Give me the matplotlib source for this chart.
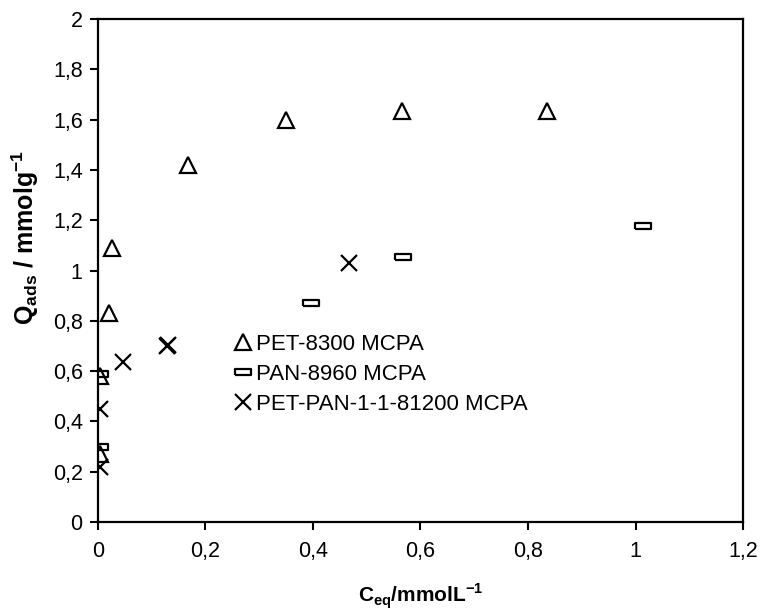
import numpy as np
import matplotlib
matplotlib.use("Agg")
import matplotlib.pyplot as plt
from matplotlib.ticker import FuncFormatter, MultipleLocator

plt.rcParams['font.family'] = ['Liberation Sans', 'DejaVu Sans']
plt.rcParams['mathtext.fontset'] = 'custom'
plt.rcParams['mathtext.rm'] = 'Liberation Sans:bold'

# PET-8300 MCPA
pet_x = [0.003, 0.003, 0.020, 0.026, 0.167, 0.350, 0.566, 0.835]
pet_y = [0.27, 0.58, 0.83, 1.09, 1.42, 1.60, 1.635, 1.635]

# PAN-8960 MCPA
pan_x = [0.003, 0.003, 0.396, 0.568, 1.014]
pan_y = [0.30, 0.59, 0.871, 1.054, 1.177]

# PET-PAN-1-1-81200 MCPA
mix_x = [0.003, 0.003, 0.047, 0.128, 0.131, 0.467]
mix_y = [0.22, 0.45, 0.635, 0.70, 0.705, 1.03]

labels = ["PET-8300 MCPA", "PAN-8960 MCPA", "PET-PAN-1-1-81200 MCPA"]

bar_marker = [(-1, -0.32), (1, -0.32), (1, 0.32), (-1, 0.32), (-1, -0.32)]

fig = plt.figure(figsize=(7.63, 6.14), dpi=100)
ax = fig.add_axes([0.1284, 0.1498, 0.8454, 0.8192])

ax.plot(pet_x, pet_y, ls='none', marker='^', ms=11, mfc='none', mec='black',
        mew=1.6, label=labels[0])
ax.plot(pan_x, pan_y, ls='none', marker=bar_marker, ms=12, mfc='none', mec='black',
        mew=1.6, label=labels[1])
ax.plot(mix_x, mix_y, ls='none', marker='x', ms=12, mec='black',
        mew=1.6, label=labels[2])

ax.set_xlim(0, 1.2)
ax.set_ylim(0, 2)
ax.xaxis.set_major_locator(MultipleLocator(0.2))
ax.yaxis.set_major_locator(MultipleLocator(0.2))
fmt = FuncFormatter(lambda v, p: ('%g' % round(v, 2)).replace('.', ','))
ax.xaxis.set_major_formatter(fmt)
ax.yaxis.set_major_formatter(fmt)
ax.tick_params(direction='out', length=6, width=1.5, labelsize=15.5, pad=5)
ax.tick_params(axis='x', pad=8)
for s in ax.spines.values():
    s.set_linewidth(1.6)

ax.set_xlabel(r'C$_\mathrm{eq}$/mmolL$^\mathrm{-1}$', fontsize=15, fontweight='bold')
ax.set_ylabel(r'Q$_\mathrm{ads}$ / mmolg$^\mathrm{-1}$', fontsize=18, fontweight='bold')
ax.xaxis.set_label_coords(0.5, -0.118)
ax.yaxis.set_label_coords(-0.088, 0.565)

ax.legend(loc='upper left', bbox_to_anchor=(0.307, 0.456), frameon=False,
          fontsize=16, handlelength=0.8, handletextpad=0.2, labelspacing=0.4,
          borderaxespad=0, borderpad=0, bbox_transform=fig.transFigure)

fig.savefig("out.png", dpi=100)
